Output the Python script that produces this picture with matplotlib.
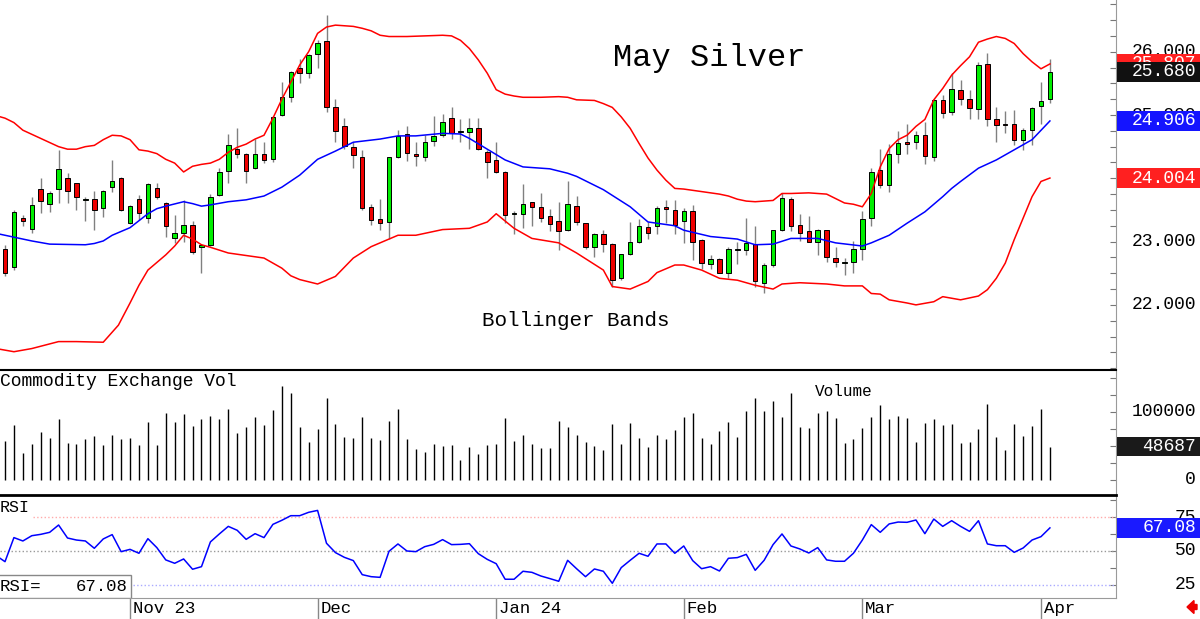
import numpy as np
import matplotlib
matplotlib.use('Agg')
import matplotlib.pyplot as plt
from matplotlib.patches import Rectangle, FancyArrow

# Daily May silver futures, Oct 2023 - Apr 2 2024 (bar index 0..117)
opens = [22.89, 22.60, 23.37, 23.20, 23.83, 23.60, 23.83, 24.00, 23.92, 23.66,
         23.68, 23.53, 23.86, 24.00, 23.30, 23.68, 23.38, 23.84, 23.61, 23.05,
         23.14, 23.27, 22.92, 22.95, 23.74, 24.12, 24.47, 24.38, 24.17, 24.38,
         24.30, 25.00, 25.29, 25.74, 25.66, 25.96, 26.17, 25.13, 24.83, 24.50,
         24.33, 23.55, 23.36, 23.31, 24.33, 24.70, 24.38, 24.34, 24.59, 24.68,
         24.96, 24.73, 24.73, 24.79, 24.42, 24.29, 24.10, 23.43, 23.44, 23.62,
         23.55, 23.41, 23.33, 23.19, 23.56, 23.29, 22.92, 23.12, 22.96, 22.43,
         22.80, 22.99, 23.23, 23.24, 23.55, 23.50, 23.33, 23.49, 23.03, 22.64,
         22.72, 22.50, 22.87, 22.86, 22.96, 22.35, 22.63, 23.18, 23.68, 23.26,
         23.16, 23.00, 23.18, 22.74, 22.66, 22.68, 22.89, 23.37, 24.13, 23.90,
         24.39, 24.57, 24.58, 24.68, 24.34, 25.24, 25.04, 25.40, 25.25, 25.09,
         25.80, 24.93, 24.85, 24.85, 24.61, 24.77, 25.14, 25.25]
highs = [22.95, 23.50, 23.42, 23.71, 24.01, 23.80, 24.45, 24.08, 23.93, 23.71,
         23.80, 23.82, 24.29, 24.02, 23.58, 23.74, 23.93, 23.93, 23.63, 23.42,
         23.66, 23.33, 22.96, 23.75, 24.16, 24.70, 24.79, 24.40, 24.62, 24.58,
         24.99, 25.52, 25.70, 25.88, 25.96, 26.18, 26.58, 25.26, 24.95, 24.58,
         24.45, 23.59, 23.67, 24.34, 24.76, 24.82, 24.57, 24.68, 24.98, 25.02,
         25.12, 24.93, 24.96, 24.96, 24.45, 24.57, 24.12, 23.49, 23.91, 23.63,
         23.77, 23.51, 23.63, 23.95, 23.72, 23.30, 23.13, 23.19, 22.97, 22.81,
         23.31, 23.36, 23.31, 23.56, 23.66, 23.66, 23.53, 23.58, 23.04, 22.79,
         22.74, 22.91, 23.00, 23.37, 23.25, 22.66, 23.19, 23.77, 23.70, 23.43,
         23.41, 23.20, 23.19, 22.92, 22.74, 23.01, 23.49, 24.17, 24.47, 24.54,
         24.74, 24.86, 24.74, 24.89, 25.25, 25.32, 25.67, 25.55, 25.40, 25.84,
         25.98, 25.12, 25.07, 25.08, 24.80, 25.13, 25.52, 25.88]
lows = [22.46, 22.55, 23.24, 23.14, 23.45, 23.47, 23.61, 23.61, 23.50, 23.33,
        23.19, 23.39, 23.79, 23.48, 23.28, 23.34, 23.29, 23.68, 23.08, 22.97,
        23.00, 22.81, 22.50, 22.93, 23.72, 23.93, 24.32, 23.93, 24.15, 24.24,
        24.25, 24.98, 25.21, 25.51, 25.59, 25.75, 25.05, 24.58, 24.47, 24.17,
        23.50, 23.26, 23.19, 23.04, 24.32, 24.28, 24.19, 24.28, 24.51, 24.66,
        24.62, 24.58, 24.47, 24.45, 24.00, 24.08, 23.29, 23.12, 23.21, 23.24,
        23.31, 23.16, 22.87, 23.16, 23.26, 22.88, 22.75, 22.84, 22.28, 22.40,
        22.79, 22.98, 23.04, 23.12, 23.30, 23.12, 22.97, 22.71, 22.56, 22.56,
        22.50, 22.42, 22.64, 22.79, 22.29, 22.19, 22.60, 23.16, 23.17, 23.01,
        22.99, 22.79, 22.68, 22.60, 22.47, 22.50, 22.71, 23.24, 23.84, 23.78,
        24.24, 24.38, 24.46, 24.22, 24.28, 24.95, 25.00, 25.16, 24.93, 24.94,
        24.83, 24.58, 24.71, 24.52, 24.45, 24.52, 24.86, 25.19]
closes = [22.50, 23.47, 23.33, 23.58, 23.64, 23.77, 24.14, 23.80, 23.71, 23.68,
          23.50, 23.80, 23.96, 23.50, 23.56, 23.45, 23.91, 23.71, 23.25, 23.14,
          23.26, 22.83, 22.94, 23.71, 24.10, 24.52, 24.39, 24.12, 24.39, 24.29,
          24.97, 25.28, 25.68, 25.67, 25.95, 26.13, 25.13, 24.75, 24.51, 24.37,
          23.53, 23.34, 23.30, 24.33, 24.67, 24.40, 24.36, 24.58, 24.67, 24.89,
          24.71, 24.74, 24.79, 24.47, 24.25, 24.10, 23.42, 23.45, 23.60, 23.55,
          23.38, 23.28, 23.17, 23.59, 23.31, 22.92, 23.12, 22.96, 22.40, 22.80,
          23.00, 23.24, 23.13, 23.53, 23.51, 23.27, 23.49, 23.00, 22.66, 22.72,
          22.51, 22.88, 22.88, 22.97, 22.38, 22.63, 23.18, 23.69, 23.25, 23.14,
          23.00, 23.19, 22.75, 22.67, 22.67, 22.89, 23.35, 24.10, 23.89, 24.39,
          24.55, 24.54, 24.68, 24.35, 25.24, 25.03, 25.41, 25.25, 25.11, 25.79,
          24.93, 24.84, 24.84, 24.61, 24.77, 25.11, 25.22, 25.68]

# Bollinger bands, read at sample bars
upper_idx = [-1, 0, 1, 2, 4, 6, 7, 8, 9, 10, 11, 12, 13, 14, 15, 16, 17, 18, 19, 20,
             21, 22, 23, 24, 25, 26, 27, 28, 29, 30, 31, 32, 33, 34, 35, 36, 37, 38, 39, 40,
             41, 42, 43, 45, 47, 49, 50, 51, 52, 53, 54, 55, 56, 57, 58, 60, 62, 63, 64, 66,
             67, 68, 69, 70, 71, 72, 73, 74, 75, 76, 78, 80, 81, 82, 83, 84, 85, 86, 87, 88,
             90, 91, 92, 93, 94, 95, 96, 97, 98, 99, 100, 101, 102, 103, 104, 105, 106, 107,
             108, 109, 110, 111, 112, 113, 114, 115, 116, 117]
upper_val = [24.99, 24.95, 24.88, 24.76, 24.63, 24.50, 24.46, 24.46, 24.50, 24.52,
             24.61, 24.68, 24.67, 24.61, 24.45, 24.43, 24.39, 24.30, 24.24, 24.10,
             24.19, 24.22, 24.24, 24.30, 24.41, 24.49, 24.54, 24.62, 24.68, 24.95,
             25.25, 25.52, 25.79, 26.00, 26.29, 26.39, 26.42, 26.41, 26.40, 26.37,
             26.33, 26.26, 26.24, 26.24, 26.25, 26.26, 26.25, 26.18, 26.05, 25.87,
             25.66, 25.40, 25.33, 25.30, 25.28, 25.28, 25.29, 25.28, 25.24, 25.23,
             25.18, 25.12, 24.97, 24.79, 24.55, 24.32, 24.13, 23.97, 23.84, 23.83,
             23.79, 23.75, 23.72, 23.67, 23.64, 23.63, 23.64, 23.65, 23.76, 23.76,
             23.77, 23.76, 23.75, 23.68, 23.61, 23.59, 23.55, 23.76, 24.18, 24.47,
             24.61, 24.68, 24.82, 24.93, 25.24, 25.42, 25.63, 25.78, 25.92, 26.15,
             26.20, 26.24, 26.21, 26.13, 25.97, 25.84, 25.73, 25.807]
mid_idx = [-1, 1, 3, 5, 9, 10, 11, 12, 14, 16, 17, 18, 20, 21, 22, 23, 25, 27, 29, 31,
           33, 35, 37, 39, 42, 44, 46, 49, 51, 52, 54, 56, 58, 61, 63, 64, 67, 70, 72, 75,
           76, 79, 82, 84, 86, 88, 91, 93, 96, 97, 99, 101, 103, 105, 106, 107, 109, 111,
           113, 115, 117]
mid_val = [23.13, 23.07, 23.01, 22.96, 22.95, 22.97, 23.01, 23.10, 23.22, 23.44,
           23.52, 23.56, 23.63, 23.60, 23.56, 23.58, 23.63, 23.66, 23.72, 23.86,
           24.05, 24.30, 24.43, 24.57, 24.62, 24.67, 24.67, 24.71, 24.70, 24.63,
           24.46, 24.29, 24.18, 24.15, 24.08, 24.03, 23.82, 23.55, 23.31, 23.25,
           23.18, 23.08, 23.04, 22.95, 22.96, 23.05, 23.05, 22.98, 22.93, 22.98,
           23.10, 23.29, 23.47, 23.71, 23.84, 23.95, 24.16, 24.29, 24.45, 24.61,
           24.906]
lower_idx = [-1, 1, 3, 6, 8, 11, 12.7, 14, 15, 16, 18, 19, 20, 21, 22, 23, 25, 28, 29, 31,
             32, 33, 35, 37, 39, 41, 44, 46, 49, 52, 54, 55, 57, 59, 62, 64, 67, 68, 70, 72,
             73, 75, 76, 78, 80, 82, 84, 86, 87, 89, 92, 94, 96, 97, 98, 99, 101, 102, 104, 105,
             107, 109, 110, 111, 112, 113, 115, 116, 117]
lower_val = [21.31, 21.26, 21.31, 21.42, 21.42, 21.41, 21.68, 22.03, 22.31, 22.55,
             22.79, 22.93, 23.10, 23.04, 22.95, 22.91, 22.82, 22.76, 22.74, 22.58,
             22.46, 22.40, 22.33, 22.45, 22.74, 22.92, 23.10, 23.10, 23.19, 23.21,
             23.31, 23.44, 23.21, 23.05, 22.98, 22.82, 22.55, 22.29, 22.25, 22.37,
             22.51, 22.63, 22.63, 22.55, 22.42, 22.39, 22.31, 22.25, 22.33, 22.35,
             22.33, 22.30, 22.30, 22.18, 22.17, 22.08, 22.03, 22.00, 22.05, 22.13,
             22.08, 22.14, 22.24, 22.42, 22.66, 23.03, 23.71, 23.95, 24.004]

volumes = [57100, 80500, 39000, 52200, 70300, 61500, 89300, 54700, 52200, 60500,
           63900, 50800, 66400, 59500, 61500, 50800, 85400, 50800, 97600, 85400,
           96100, 79500, 88800, 93700, 88800, 104400, 68800, 78100, 92200, 80500,
           102000, 137600, 127900, 77100, 55600, 74700, 119600, 82000, 62500, 61500,
           92200, 61500, 58100, 86400, 104400, 60500, 44900, 40500, 52200, 49800,
           51200, 29300, 48300, 38100, 50800, 52200, 91300, 57100, 66400, 52200,
           47300, 47300, 86400, 77100, 65400, 55600, 49800, 43900, 82000, 53200,
           83000, 61500, 48300, 65400, 60500, 73200, 92200, 98600, 61500, 53200,
           72200, 84400, 63000, 101000, 119600, 101000, 116100, 92200, 126900, 78100,
           76100, 98600, 101000, 90300, 53700, 60500, 76100, 92700, 109300, 88800,
           93700, 91300, 55600, 83000, 88800, 81000, 82000, 53700, 55600, 74700,
           111300, 63000, 43900, 82000, 63900, 79500, 103500, 48687]

# RSI, first value belongs to the bar before the visible window
rsi = [46.6,
       42.1, 59.9, 57.4, 61.3, 62.3, 63.8, 69.2, 59.6, 58.1, 57.4,
       52.0, 58.9, 62.1, 49.5, 51.2, 48.3, 59.1, 52.5, 43.4, 40.9,
       44.1, 36.5, 38.4, 56.7, 62.6, 68.2, 65.3, 58.6, 62.8, 59.9,
       69.7, 72.7, 76.1, 76.1, 78.6, 80.0, 55.7, 48.8, 45.3, 42.9,
       32.5, 31.0, 30.5, 49.8, 55.2, 50.0, 49.5, 53.2, 54.9, 58.4,
       54.7, 54.9, 55.4, 48.0, 43.8, 40.6, 29.1, 29.1, 35.0, 34.2,
       31.5, 29.6, 27.6, 43.1, 36.9, 31.0, 36.7, 35.0, 26.1, 37.7,
       43.1, 48.3, 46.1, 55.2, 55.2, 48.3, 53.7, 42.9, 36.9, 38.4,
       35.2, 44.6, 45.1, 47.5, 35.7, 43.1, 54.7, 62.6, 53.7, 51.5,
       48.5, 52.5, 43.4, 42.4, 42.4, 48.3, 58.1, 69.5, 63.8, 70.0,
       71.4, 71.2, 72.9, 62.8, 73.6, 68.2, 72.4, 68.2, 64.5, 72.4,
       55.2, 53.9, 53.9, 49.0, 52.2, 58.1, 60.6, 67.08]

date_idx = [14, 35, 55, 76, 96, 116]
date_labels = ['Nov 23', 'Dec', 'Jan 24', 'Feb', 'Mar', 'Apr']

price_labels = [22, 23, 24, 25, 26]
vol_labels = [0, 50000, 100000]
rsi_levels = [25, 50, 75]

MONO = 'Liberation Mono'
plt.rcParams['font.family'] = MONO
W, H = 1200, 619
fig = plt.figure(figsize=(12, 6.19), dpi=100)
fig.patch.set_facecolor('white')


def px_axes(left, top, right, bottom):
    # axes from pixel box (top-left origin)
    return fig.add_axes([left / W, (H - bottom) / H, (right - left) / W, (bottom - top) / H])


ax = px_axes(0, 0, 1116, 369)
axv = px_axes(0, 370, 1116, 495)
axr = px_axes(0, 495, 1116, 597.5)

xmin, xmax = -0.56, 124.4
for a in (ax, axv, axr):
    a.set_xlim(xmin, xmax)
    a.set_xticks([])
    a.spines['left'].set_visible(False)
    a.spines['top'].set_visible(False)
    a.spines['bottom'].set_visible(False)
    a.spines['right'].set_color('#9a9a9a')
    a.yaxis.tick_right()
    a.tick_params(axis='y', direction='in', length=4, color='#777777', labelright=False)
    a.set_facecolor('white')

ax.set_ylim(20.987, 26.817)
axv.set_ylim(-21960, 161000)
axr.set_ylim(15.6, 91.4)
ax.set_yticks(np.arange(21.0, 26.8, 0.25))
axv.set_yticks(np.arange(0, 160001, 25000))
axr.set_yticks(np.arange(25, 90, 12.5))
axv.spines['top'].set_visible(True)
axv.spines['top'].set_color('black')
axv.spines['top'].set_linewidth(1.5)
axr.spines['top'].set_visible(True)
axr.spines['top'].set_color('black')
axr.spines['top'].set_linewidth(2)
axr.spines['bottom'].set_visible(True)
axr.spines['bottom'].set_color('#9a9a9a')

# --- candles ---
idx = np.arange(len(closes))
o = np.array(opens)
c = np.array(closes)
up = c >= o
ax.vlines(idx, lows, highs, color='#808080', linewidth=1, zorder=2)
body_lo = np.minimum(o, c)
body_h = np.maximum(np.abs(c - o), 0.012)
ax.bar(idx[up], body_h[up], bottom=body_lo[up], width=0.5, color='#00ee00',
       edgecolor='black', linewidth=0.7, zorder=3)
ax.bar(idx[~up], body_h[~up], bottom=body_lo[~up], width=0.5, color='#ee0000',
       edgecolor='black', linewidth=0.7, zorder=3)

# Bollinger bands
ax.plot(upper_idx, upper_val, color='#ff0000', linewidth=1.1, zorder=4)
ax.plot(lower_idx, lower_val, color='#ff0000', linewidth=1.1, zorder=4)
ax.plot(mid_idx, mid_val, color='#0000ff', linewidth=1.1, zorder=4)

ax.text(709 / 1116, (369 - 58) / 369, 'May Silver', transform=ax.transAxes,
        ha='center', va='center', fontsize=23, color='black')
ax.text(576 / 1116, (369 - 320) / 369, 'Bollinger Bands', transform=ax.transAxes,
        ha='center', va='center', fontsize=15, color='black')

# --- volume ---
axv.vlines(idx, 0, volumes, color='black', linewidth=1)
axv.text(0, (495 - 382) / 125, 'Commodity Exchange Vol', transform=axv.transAxes,
         ha='left', va='center', fontsize=13)
axv.text(844 / 1116, (495 - 391) / 125, 'Volume', transform=axv.transAxes,
         ha='center', va='center', fontsize=11.5)

# --- RSI ---
axr.plot(np.arange(-1, len(closes)), rsi, color='#0000ff', linewidth=1.1, zorder=4)
axr.axhline(75, xmin=33 / 1116, color='#ffaaaa', linewidth=1, linestyle=':')
axr.axhline(50, color='#999999', linewidth=1, linestyle=':')
axr.axhline(25, xmin=133 / 1116, color='#aaaaff', linewidth=1, linestyle=':')
axr.text(0, (597.5 - 507) / 102.5, 'RSI', transform=axr.transAxes,
         ha='left', va='center', fontsize=12)
axr.add_patch(Rectangle((-0.002, 0), 133 / 1116, 22.5 / 102.5, transform=axr.transAxes,
                        facecolor='white', edgecolor='#888888', linewidth=1, zorder=5))
axr.text(0, 11 / 102.5, 'RSI=', transform=axr.transAxes, ha='left', va='center',
         fontsize=12.5, zorder=6)
axr.text(128 / 1116, 11 / 102.5, '67.08', transform=axr.transAxes, ha='right',
         va='center', fontsize=12.5, zorder=6)

# date ticks along the bottom
axr.set_xticks(date_idx)
axr.set_xticklabels([])
axr.tick_params(axis='x', direction='out', length=16, color='#888888', width=1)
for d, lab in zip(date_idx, date_labels):
    axr.annotate(lab, xy=(d, 0), xycoords=('data', 'axes fraction'),
                 xytext=(2, -8), textcoords='offset points',
                 ha='left', va='center', fontsize=12.5)


# --- right side scale labels and value tags ---
def fig_y(a, value):
    return fig.transFigure.inverted().transform(a.transData.transform((0, value)))[1]


def scale_label(a, value, text):
    fig.text(1196 / W, fig_y(a, value), text, ha='right', va='center',
             fontsize=13, color='black', zorder=2)


def value_tag(a, value, text, face, z):
    y = fig_y(a, value)
    h = 19.5 / H
    fig.add_artist(Rectangle((1117 / W, y - h / 2), 83 / W, h, transform=fig.transFigure,
                             facecolor=face, edgecolor='none', zorder=z))
    fig.text(1196 / W, y, text, ha='right', va='center', fontsize=13,
             color='white', zorder=z + 0.5)


for p in price_labels:
    scale_label(ax, p, f'{p:.3f}')
for v in vol_labels:
    scale_label(axv, v, f'{v}')
for r in rsi_levels:
    scale_label(axr, r, f'{r}')

value_tag(ax, upper_val[-1], f'{upper_val[-1]:.3f}', '#ff2020', 3)
value_tag(ax, closes[-1], f'{closes[-1]:.3f}', '#111111', 4)
value_tag(ax, mid_val[-1], f'{mid_val[-1]:.3f}', '#1414ff', 3)
value_tag(ax, lower_val[-1], f'{lower_val[-1]:.3f}', '#ff2020', 3)
value_tag(axv, volumes[-1], f'{volumes[-1]}', '#1a1a1a', 3)
value_tag(axr, rsi[-1], f'{rsi[-1]:.2f}', '#1a1aff', 3)

# small red arrow bottom right
fig.add_artist(FancyArrow(11.97, 0.12, -0.10, 0, width=0.05, head_width=0.13,
                          head_length=0.07, length_includes_head=True,
                          transform=fig.dpi_scale_trans, color='#ee0000'))

fig.savefig('out.png', dpi=100, facecolor='white')
